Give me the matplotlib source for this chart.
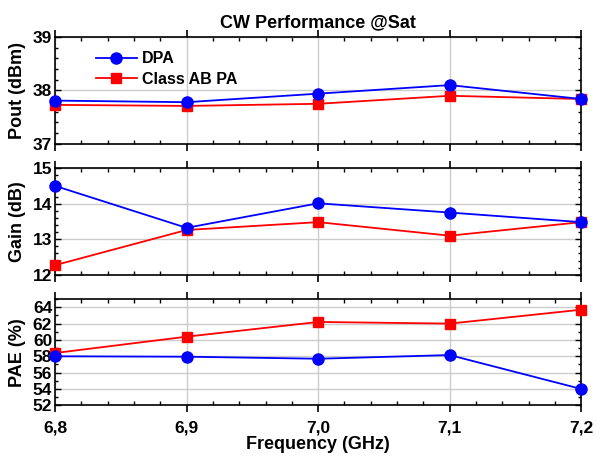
import matplotlib

matplotlib.use("Agg")
import matplotlib.pyplot as plt
from matplotlib.ticker import MultipleLocator, FuncFormatter

plt.rcParams["font.family"] = ["Liberation Sans", "DejaVu Sans"]
plt.rcParams["font.weight"] = "bold"

freq = [6.8, 6.9, 7.0, 7.1, 7.2]

pout_dpa = [37.81, 37.78, 37.94, 38.10, 37.84]
pout_ab = [37.73, 37.71, 37.75, 37.90, 37.84]

gain_dpa = [14.50, 13.32, 14.01, 13.75, 13.48]
gain_ab = [12.27, 13.26, 13.48, 13.10, 13.48]

pae_dpa = [58.0, 57.95, 57.7, 58.15, 54.0]
pae_ab = [58.4, 60.4, 62.2, 62.0, 63.7]

fig = plt.figure(figsize=(5.96, 4.58), dpi=100)
left, width = 0.0923, 0.883
ax1 = fig.add_axes([left, 0.686, width, 0.233])
ax2 = fig.add_axes([left, 0.400, width, 0.233])
ax3 = fig.add_axes([left, 0.115, width, 0.232])

panels = [
    (ax1, pout_dpa, pout_ab, (37, 39), 1, 0.2, "Pout (dBm)"),
    (ax2, gain_dpa, gain_ab, (12, 15), 1, 0.2, "Gain (dB)"),
    (ax3, pae_dpa, pae_ab, (52, 65), 2, 1, "PAE (%)"),
]

comma = FuncFormatter(lambda v, p: f"{v:.1f}".replace(".", ","))

for ax, dpa, ab, ylim, ymaj, ymin, ylabel in panels:
    ax.plot(freq, dpa, "-o", color="blue", lw=1.3, ms=8, label="DPA", zorder=4, clip_on=False)
    ax.plot(freq, ab, "-s", color="red", lw=1.3, ms=6.5, label="Class AB PA", zorder=3, clip_on=False)
    ax.set_xlim(6.8, 7.2)
    ax.set_ylim(*ylim)
    ax.xaxis.set_major_locator(MultipleLocator(0.1))
    ax.xaxis.set_minor_locator(MultipleLocator(0.02))
    ax.yaxis.set_major_locator(MultipleLocator(ymaj))
    ax.yaxis.set_minor_locator(MultipleLocator(ymin))
    ax.grid(True, which="major", color="#cccccc", lw=1.0, zorder=0)
    ax.tick_params(axis="x", which="major", direction="out", length=5, width=1.2, top=True)
    ax.tick_params(axis="x", which="minor", direction="in", length=3, width=1.0, top=True)
    ax.tick_params(axis="y", which="both", direction="in", right=True, width=1.0)
    ax.tick_params(axis="y", which="major", length=4, labelsize=12.5, pad=2)
    ax.tick_params(axis="y", which="minor", length=2.5)
    ax.tick_params(axis="x", labelsize=12.5)
    for s in ax.spines.values():
        s.set_linewidth(1.2)
    ax.set_ylabel(ylabel, fontsize=13, fontweight="bold")
    ax.yaxis.set_label_coords(-0.055, 0.5)
    for lab in ax.get_yticklabels():
        lab.set_fontweight("bold")
    if ax is not ax3:
        ax.tick_params(axis="x", labelbottom=False)

ax3.xaxis.set_major_formatter(comma)
ax3.tick_params(axis="x", pad=6)
ax3.set_xlabel("Frequency (GHz)", fontsize=13, fontweight="bold", labelpad=0)

ax1.legend(loc="upper left", bbox_to_anchor=(0.05, 1.0), frameon=False,
           prop={"size": 11.5, "weight": "bold"}, handlelength=2.6,
           handletextpad=0.3, labelspacing=0.35)
ax1.set_title("CW Performance @Sat", fontsize=13, fontweight="bold", pad=7)

fig.savefig("out.png", dpi=100)
